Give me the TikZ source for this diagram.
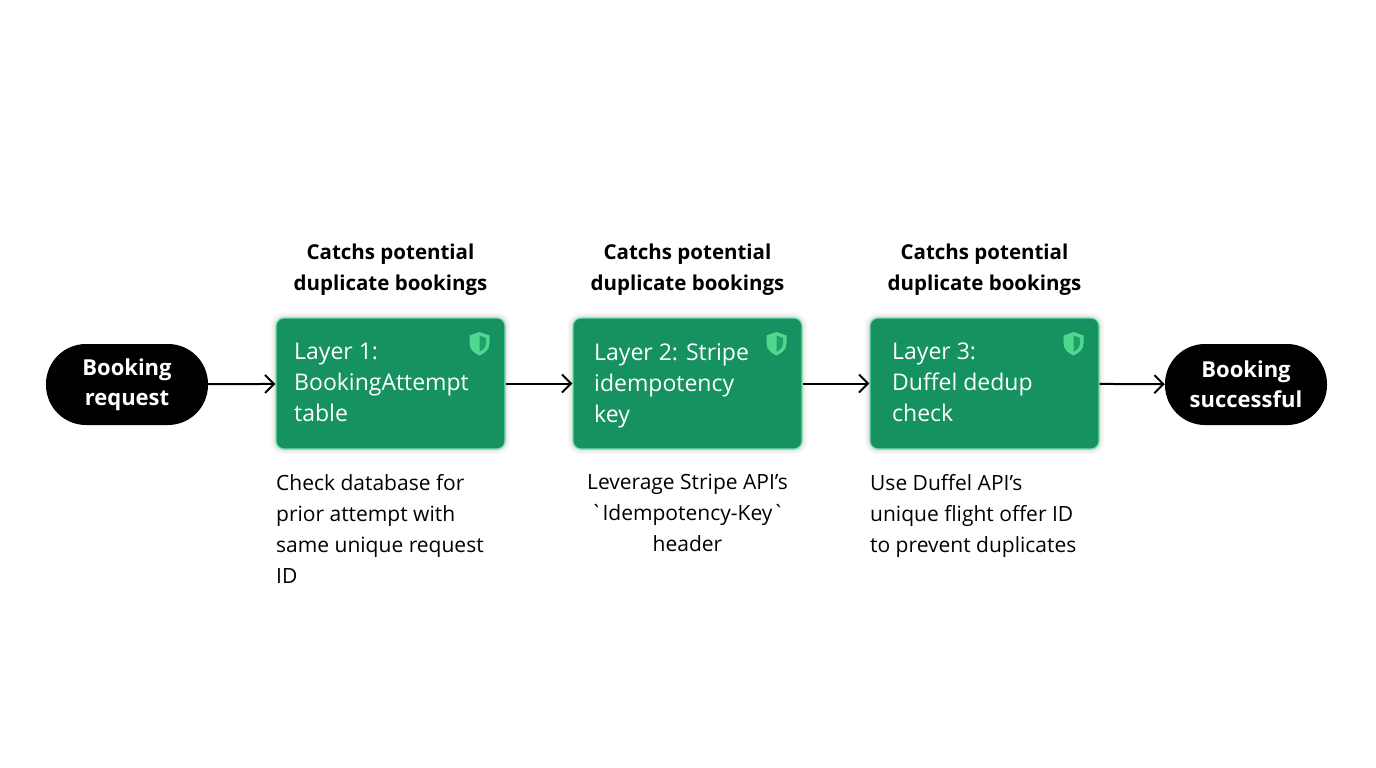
\documentclass[tikz,border=0pt]{standalone}
\usepackage{fontspec}
\setmainfont{Open Sans}
\newfontfamily\plainfont{Open Sans}
\usetikzlibrary{arrows.meta,shadows.blur}
\definecolor{boxg}{HTML}{15925F}
\definecolor{edgeg}{HTML}{6FE0A8}
\definecolor{shieldg}{HTML}{4FD98F}
\begin{document}
\begin{tikzpicture}[x=1pt,y=-1pt,
  pill/.style={fill=black,text=white,rounded corners=40pt,minimum width=162pt,minimum height=81pt,align=center,font=\fontsize{22}{30}\selectfont\bfseries,inner sep=0pt},
  layer/.style={fill=boxg,draw=edgeg,line width=1.2pt,rounded corners=8pt,minimum width=229pt,minimum height=131pt,blur shadow={shadow blur steps=8,shadow xshift=0pt,shadow yshift=0pt,shadow opacity=25,shadow blur radius=6pt}},
  ltext/.style={text=white,align=left,anchor=north west,font=\fontsize{23}{31}\selectfont,inner sep=0pt},
  title/.style={align=center,font=\fontsize{20.5}{31}\selectfont\bfseries,inner sep=0pt},
  desc/.style={font=\fontsize{21}{31}\selectfont,inner sep=0pt},
  arr/.style={-{Straight Barb[length=9pt,width=18pt,line width=2pt]},line width=2pt}]
\useasboundingbox (0,0) rectangle (1376,768);
\node[pill] (req) at (127,384.5) {Booking\\request};
\node[pill] (succ) at (1246,384.5) {Booking\\successful};
\foreach \i/\cx in {1/390.5,2/687.5,3/984.5}{
  \node[layer] (L\i) at (\cx,383.5) {};
  \node[title] (T\i) at (\cx,269.5) {Catchs potential\\duplicate bookings};
  \begin{scope}[shift={(\cx+89,343)}]
    \fill[shieldg] (0,-11) -- (10,-7.5) -- (10,0) .. controls (10,7) and (5,10) .. (0,12.5) .. controls (-5,10) and (-10,7) .. (-10,0) -- (-10,-7.5) -- cycle;
    \fill[boxg!80!shieldg] (0,-7.5) -- (6.5,-5) -- (6.5,0) .. controls (6.5,4.5) and (3.5,7) .. (0,8.8) -- cycle;
  \end{scope}
}
\node[ltext] (X1) at (294,343) {Layer 1:\\BookingAttempt\\table};
\node[ltext] (X2) at (594,343) {Layer 2: Stripe\\idempotency\\key};
\node[ltext] (X3) at (892,343) {Layer 3:\\Duffel dedup\\check};
\node[desc,align=left,anchor=north west] (D1) at (276,474) {Check database for\\prior attempt with\\same unique request\\ID};
\node[desc,align=center,anchor=north] (D2) at (687.5,474) {Leverage Stripe API's\\{\plainfont`}Idempotency-Key{\plainfont`}\\header};
\node[desc,align=left,anchor=north west] (D3) at (870,474) {Use Duffel API's\\unique flight offer ID\\to prevent duplicates};
\draw[arr] (req) -- (L1);
\draw[arr] (L1) -- (L2);
\draw[arr] (L2) -- (L3);
\draw[arr] (L3) -- (succ);
\end{tikzpicture}
\end{document}
